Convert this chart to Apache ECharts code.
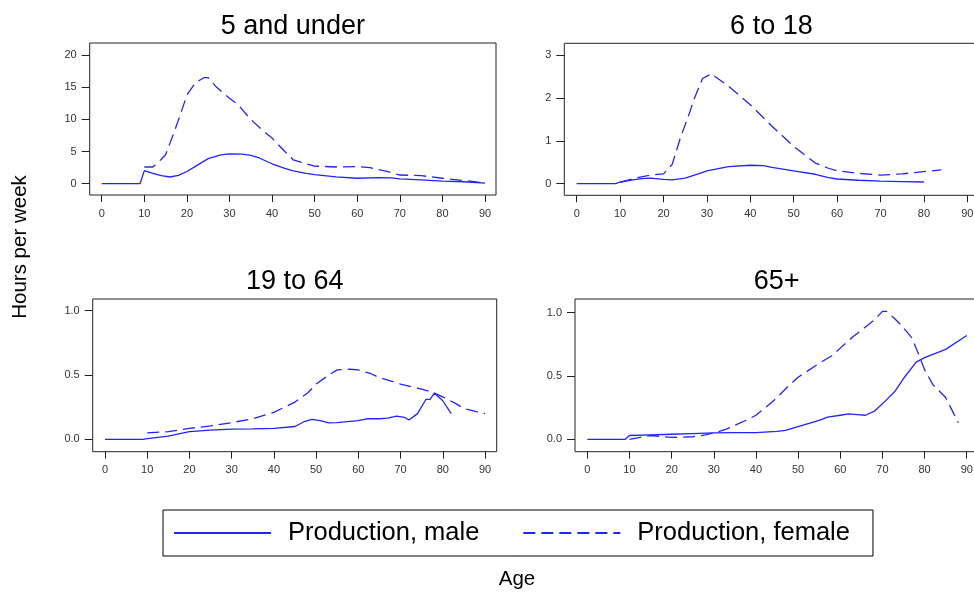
<!DOCTYPE html>
<html>
<head>
<meta charset="utf-8">
<script src="https://cdn.jsdelivr.net/npm/echarts@6/dist/echarts.min.js"></script>
<style>html,body{margin:0;padding:0;background:#fff}#c{width:974px;height:592px}</style>
</head>
<body>
<div id="c"></div>
<script>
// ---- Data (ages in years, hours per week) ----
const panelTitles = ['5 and under', '6 to 18', '19 to 64', '65+'];
const seriesNames = ['Production, male', 'Production, female'];
const xTicks = [0, 10, 20, 30, 40, 50, 60, 70, 80, 90];
const yTicks1 = [0, 5, 10, 15, 20];
const yTicks2 = [0, 1, 2, 3];
const yTicks3 = [0, 0.5, 1.0];
const yTicks4 = [0, 0.5, 1.0];

const p1MaleAge = [0, 9, 10, 12, 14, 16, 18, 20, 22, 25, 28, 30, 33, 35, 37, 40, 43, 45, 48, 50, 55, 60, 65, 68, 70, 75, 80, 85, 90];
const p1MaleVal = [0, 0, 2.03, 1.6, 1.25, 1.04, 1.3, 1.9, 2.7, 3.9, 4.5, 4.65, 4.6, 4.4, 4.0, 3.1, 2.4, 2.0, 1.6, 1.4, 1.05, 0.85, 0.95, 0.9, 0.75, 0.6, 0.4, 0.3, 0.1];
const p1FemAge = [10, 12, 14, 15, 17, 19, 20, 22, 24, 25, 27, 30, 32, 35, 38, 40, 43, 45, 48, 50, 55, 60, 63, 67, 70, 75, 80, 85, 90];
const p1FemVal = [2.6, 2.6, 3.8, 4.5, 8.0, 11.8, 13.8, 15.7, 16.5, 16.5, 15.0, 13.3, 12.3, 10.0, 8.2, 7.1, 5.0, 3.7, 3.1, 2.75, 2.6, 2.65, 2.5, 1.9, 1.35, 1.25, 0.85, 0.5, 0.1];

const p2MaleAge = [0, 9, 10, 13, 15, 17, 20, 22, 25, 28, 30, 35, 40, 43, 45, 50, 55, 58, 60, 65, 70, 75, 80];
const p2MaleVal = [0, 0, 0.04, 0.09, 0.12, 0.13, 0.1, 0.09, 0.13, 0.23, 0.3, 0.4, 0.43, 0.42, 0.38, 0.3, 0.22, 0.14, 0.11, 0.08, 0.06, 0.05, 0.04];
const p2FemAge = [10, 13, 17, 20, 22, 24, 26, 27, 29, 31, 35, 40, 45, 50, 55, 58, 60, 65, 70, 75, 80, 84];
const p2FemVal = [0.03, 0.12, 0.2, 0.23, 0.45, 1.1, 1.65, 1.96, 2.45, 2.56, 2.27, 1.84, 1.34, 0.87, 0.48, 0.36, 0.3, 0.24, 0.2, 0.23, 0.28, 0.32];

const p3MaleAge = [0, 9, 10, 15, 20, 25, 30, 35, 40, 45, 47, 49, 51, 53, 55, 58, 60, 62, 65, 67, 69, 71, 72, 74, 76, 77, 78, 80, 82];
const p3MaleVal = [0, 0, 0.005, 0.025, 0.06, 0.072, 0.08, 0.082, 0.085, 0.1, 0.135, 0.155, 0.145, 0.128, 0.13, 0.14, 0.145, 0.16, 0.16, 0.165, 0.18, 0.17, 0.15, 0.2, 0.31, 0.31, 0.36, 0.3, 0.2];
const p3FemAge = [10, 15, 20, 25, 30, 35, 38, 40, 45, 48, 50, 53, 55, 58, 60, 63, 65, 70, 75, 78, 80, 83, 85, 88, 90];
const p3FemVal = [0.05, 0.06, 0.085, 0.105, 0.13, 0.16, 0.19, 0.21, 0.29, 0.36, 0.43, 0.5, 0.54, 0.545, 0.54, 0.51, 0.48, 0.43, 0.39, 0.36, 0.33, 0.28, 0.24, 0.215, 0.2];

const p4MaleAge = [0, 9, 10, 15, 20, 25, 30, 35, 40, 45, 47, 50, 55, 57, 60, 62, 64, 66, 68, 70, 73, 75, 78, 80, 85, 90];
const p4MaleVal = [0, 0, 0.03, 0.035, 0.04, 0.045, 0.05, 0.052, 0.053, 0.062, 0.07, 0.1, 0.15, 0.175, 0.19, 0.2, 0.195, 0.19, 0.22, 0.28, 0.38, 0.48, 0.61, 0.645, 0.71, 0.82];
const p4FemAge = [10, 15, 20, 25, 28, 30, 33, 35, 38, 40, 43, 45, 48, 50, 55, 58, 60, 63, 65, 68, 70, 71, 73, 75, 77, 78, 80, 82, 85, 88];
const p4FemVal = [0, 0.03, 0.015, 0.02, 0.035, 0.05, 0.08, 0.11, 0.155, 0.19, 0.27, 0.33, 0.43, 0.49, 0.6, 0.66, 0.72, 0.81, 0.86, 0.94, 1.01, 1.01, 0.95, 0.88, 0.8, 0.72, 0.55, 0.43, 0.33, 0.13];

// ---- Build chart ----
const FONT = 'Liberation Sans, Arial, sans-serif';
const BLUE = '#2323ff';
const zip = (a, b) => a.map((x, i) => [x, b[i]]);

// right-hand panels run past the canvas edge, as in the original
const grids = [
  { left: 89.7, top: 43, width: 406.3, height: 152 },
  { left: 564.3, top: 43.3, width: 414.2, height: 152 },
  { left: 92.7, top: 299, width: 404, height: 152.7 },
  { left: 575, top: 299, width: 403.3, height: 152.7 }
];
const xRanges = [[-2.82, 92.58], [-2.857, 92.58], [-2.91, 92.77], [-2.92, 92.74]];
const yRanges = [[-1.76, 21.9], [-0.27, 3.27], [-0.096, 1.091], [-0.098, 1.108]];
const yTickSets = [yTicks1, yTicks2, yTicks3, yTicks4];
const yFmt = [v => String(v), v => String(v), v => v.toFixed(1), v => v.toFixed(1)];
const data = [
  [zip(p1MaleAge, p1MaleVal), zip(p1FemAge, p1FemVal)],
  [zip(p2MaleAge, p2MaleVal), zip(p2FemAge, p2FemVal)],
  [zip(p3MaleAge, p3MaleVal), zip(p3FemAge, p3FemVal)],
  [zip(p4MaleAge, p4MaleVal), zip(p4FemAge, p4FemVal)]
];

const axisLabelStyle = { color: '#333', fontSize: 11, fontFamily: FONT };

const option = {
  animation: false,
  backgroundColor: '#fff',
  title: panelTitles.map((t, i) => ({
    text: t,
    left: grids[i].left + grids[i].width / 2,
    top: i < 2 ? 13 : 268,
    textAlign: 'center',
    padding: 0,
    textStyle: { fontSize: 27, fontWeight: 'normal', color: '#000', fontFamily: FONT }
  })).concat([{
    text: 'Age', left: 517, top: 569, textAlign: 'center', padding: 0,
    textStyle: { fontSize: 20.5, fontWeight: 'normal', color: '#000', fontFamily: FONT }
  }]),
  graphic: [{
    type: 'text', x: 20, y: 247, rotation: Math.PI / 2,
    style: { text: 'Hours per week', fontSize: 20.5, fontFamily: FONT, fill: '#000', align: 'center', verticalAlign: 'middle' }
  }],
  legend: {
    data: seriesNames,
    left: 163, top: 510,
    orient: 'horizontal',
    borderColor: '#000', borderWidth: 1,
    padding: [10, 23, 10, 10],
    itemWidth: 97, itemHeight: 20, itemGap: 43,
    itemStyle: { opacity: 0 },
    textStyle: { fontSize: 25.5, color: '#000', fontFamily: FONT, padding: [0, 0, 0, 12] }
  },
  grid: grids.map(g => Object.assign({ show: true, borderColor: '#222', borderWidth: 1, backgroundColor: '#fff', containLabel: false, outerBoundsMode: 'none' }, g)),
  xAxis: grids.map((g, i) => ({
    type: 'value', gridIndex: i, min: xRanges[i][0], max: xRanges[i][1],
    axisLine: { show: false, onZero: false },
    axisTick: { show: true, inside: false, length: 7, customValues: xTicks, lineStyle: { color: '#222' } },
    axisLabel: Object.assign({ customValues: xTicks, margin: 13 }, axisLabelStyle),
    splitLine: { show: false }
  })),
  yAxis: grids.map((g, i) => ({
    type: 'value', gridIndex: i, min: yRanges[i][0], max: yRanges[i][1],
    axisLine: { show: false, onZero: false },
    axisTick: { show: true, inside: false, length: 8, customValues: yTickSets[i], lineStyle: { color: '#222' } },
    axisLabel: Object.assign({ customValues: yTickSets[i], margin: 13, formatter: yFmt[i] }, axisLabelStyle),
    splitLine: { show: false }
  })),
  series: []
};

data.forEach((pair, i) => {
  option.series.push({
    name: seriesNames[0], type: 'line', xAxisIndex: i, yAxisIndex: i,
    data: pair[0], symbol: 'none', smooth: false,
    lineStyle: { color: BLUE, width: 1.3, type: 'solid' }, itemStyle: { color: BLUE }
  });
  option.series.push({
    name: seriesNames[1], type: 'line', xAxisIndex: i, yAxisIndex: i,
    data: pair[1], symbol: 'none', smooth: false,
    lineStyle: { color: BLUE, width: 1.3, type: [12, 6] }, itemStyle: { color: BLUE }
  });
});

const chart = echarts.init(document.getElementById('c'), null, { renderer: 'canvas' });
chart.setOption(option);
</script>
</body>
</html>
